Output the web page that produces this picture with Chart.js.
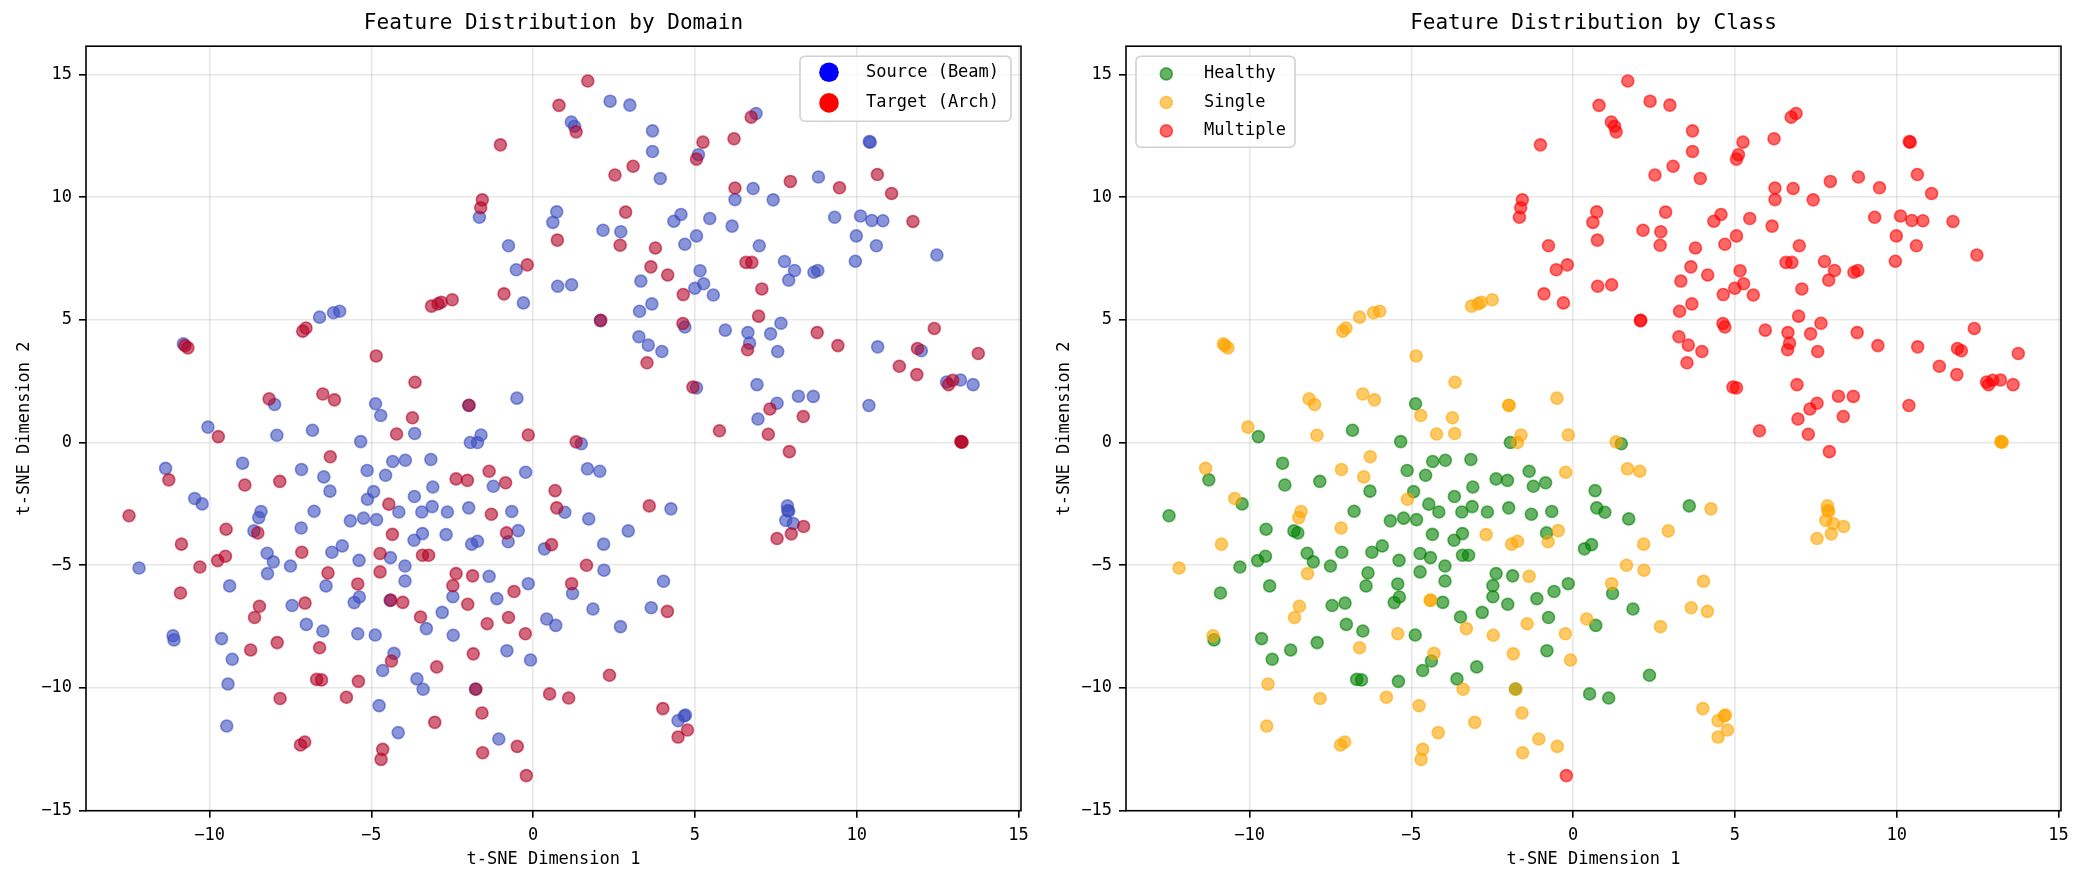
<!DOCTYPE html>
<html lang="en">
<head>
<meta charset="UTF-8">
<title>Feature Distribution</title>
<script src="https://cdn.jsdelivr.net/npm/chart.js"></script>
<style>
  body { margin: 0; background: #fff; }
  .wrap { position: absolute; top: 0; width: 1042px; height: 885px; }
</style>
</head>
<body>
<div class="wrap" style="left:0"><canvas id="domainChart" width="1042" height="885"></canvas></div>
<div class="wrap" style="left:1040px"><canvas id="classChart" width="1042" height="885"></canvas></div>

<script>
// t-SNE points [dim1, dim2], split by domain and class
const srcHealthy = [
  [-4.87,1.58],[1.49,-0.05],[0.98,-2.84],[1.72,-3.11],[1.22,-6.15],[1.85,-6.78],[0.70,-7.45],
  [-6.82,0.50],[-5.33,0.04],[-1.94,0.00],[-8.98,-0.84],[-6.28,-1.98],[-5.13,-1.14],[-4.56,-1.33],
  [-4.34,-0.77],[-3.95,-0.72],[-3.16,-0.69],[-1.23,-1.78],[-3.10,-1.81],[-3.67,-2.20],[-4.93,-2.00],
  [-4.15,-2.83],[-3.44,-2.83],[-3.12,-2.61],[-2.65,-2.83],[-1.99,-2.66],[-0.66,-2.81],[0.35,-4.33],
  [-10.23,-2.50],[-9.38,-5.84],[-8.63,-3.60],[-8.22,-4.51],[-8.03,-4.86],[-7.50,-5.03],[-6.77,-2.80],
  [-6.22,-4.47],[-5.90,-4.21],[-6.40,-5.84],[-5.38,-4.80],[-5.65,-3.19],[-5.24,-3.08],[-4.84,-3.14],
  [-4.41,-4.69],[-3.96,-5.03],[-3.96,-5.64],[-3.68,-3.98],[-3.42,-3.71],[-2.48,-6.28],[-1.12,-6.36],
  [-0.15,-5.75],[-0.81,-8.48],[-3.59,-9.63],[-1.78,-10.04],[-4.65,-9.29],[-4.88,-7.84],[-6.50,-7.68],
  [-7.01,-7.41],[-7.45,-6.64],[-9.30,-8.83],[-9.63,-7.99],[-11.10,-8.04],[-2.81,-6.92],[-5.53,-6.52],[-5.37,-6.29]
];
const srcSingle = [
  [-6.60,5.11],[-6.17,5.29],[-5.98,5.35],[-10.81,4.02],[-7.99,1.55],[-4.71,1.10],[-1.99,1.51],[-0.50,1.81],[-10.05,0.63],
  [1.68,-1.07],[2.06,-1.17],[4.26,-2.70],[2.94,-3.60],[2.18,-4.14],[2.19,-5.20],[2.70,-7.50],[3.65,-6.73],[4.03,-5.65],
  [4.48,-11.33],[4.67,-11.14],[4.71,-11.10],[7.86,-2.58],[7.87,-2.77],[7.90,-2.80],[7.81,-3.17],[8.04,-3.30],
  [-7.92,0.30],[-3.66,0.37],[-1.72,0.00],[-1.61,0.31],[-11.36,-1.05],[-7.16,-1.10],[-6.47,-1.40],[-0.23,-1.21],
  [-5.12,-2.31],[-0.46,-3.59],[-0.77,-4.04],[-10.46,-2.28],[-12.18,-5.11],[-8.48,-3.06],[-8.41,-2.81],[-8.21,-5.34],
  [-7.17,-3.48],[-2.69,-3.75],[-1.90,-4.14],[-1.72,-4.02],[-1.36,-5.45],[-0.08,-8.86],[0.42,-7.19],[-3.40,-10.05],
  [-1.06,-12.08],[-4.17,-11.82],[-4.76,-10.72],[-4.30,-8.59],[-5.42,-7.79],[-9.43,-9.84],[-9.47,-11.55],[-11.13,-7.87],
  [-3.30,-7.58],[-2.47,-7.85],[-4.42,-6.43]
];
const srcMultiple = [
  [-1.66,9.18],[0.73,9.40],[0.61,8.97],[-0.76,8.02],[-0.52,7.04],[-0.30,5.69],[0.76,6.37],
  [2.38,13.91],[2.99,13.75],[1.18,13.06],[1.28,12.89],[3.69,12.70],[3.69,11.86],[3.93,10.76],[5.11,11.73],
  [6.89,13.41],[10.39,12.26],[10.42,12.24],[8.82,10.82],[6.80,10.35],[6.24,9.90],[7.42,9.89],[2.16,8.65],
  [2.71,8.59],[4.35,9.02],[4.57,9.29],[5.46,9.13],[6.15,8.82],[5.05,8.42],[4.69,8.08],[6.99,8.02],[9.32,9.18],
  [10.12,9.23],[10.47,9.05],[10.81,9.04],[9.99,8.42],[10.61,8.02],[12.48,7.64],[9.96,7.39],[7.77,7.38],
  [8.08,7.01],[7.90,6.62],[8.68,6.94],[8.80,7.01],[3.33,6.58],[5.16,7.00],[5.27,6.47],[5.00,6.29],[5.57,6.01],
  [1.19,6.43],[3.29,5.35],[3.67,5.65],[2.08,4.97],[4.69,4.71],[5.94,4.58],[6.64,4.48],[6.69,4.05],[7.34,4.43],
  [7.66,4.86],[7.56,3.71],[3.27,4.31],[3.56,3.97],[3.98,3.71],[10.65,3.90],[12.00,3.74],[12.78,2.47],[13.21,2.55],
  [13.60,2.36],[10.38,1.51],[5.05,2.23],[6.92,2.36],[8.20,1.89],[8.66,1.88],[7.54,1.60],[6.95,0.96]
];
const tgtHealthy = [
  [0.68,-1.96],[0.73,-2.66],[3.59,-2.58],[2.36,-9.48],[1.10,-10.41],
  [-9.73,0.24],[-11.26,-1.52],[-8.91,-1.73],[-7.83,-1.58],[-2.38,-1.48],[-2.03,-1.54],[-1.36,-1.17],[-0.85,-1.64],
  [-4.46,-2.51],[-1.29,-2.92],[-0.82,-3.68],[0.57,-4.16],[-12.49,-2.98],[-10.90,-6.13],[-10.30,-5.07],[-9.75,-4.81],
  [-9.51,-4.63],[-9.49,-3.53],[-8.51,-3.68],[-7.15,-4.47],[-6.34,-5.31],[-4.35,-3.74],[-4.73,-4.52],[-4.73,-5.27],
  [-3.42,-4.59],[-3.23,-4.59],[-2.38,-5.34],[-2.48,-5.83],[-1.87,-5.43],[-2.02,-6.59],[-0.59,-6.07],[-0.76,-7.13],
  [-2.98,-9.14],[0.51,-10.24],[-4.38,-8.90],[-5.40,-9.73],[-6.69,-9.65],[-6.54,-9.67],[-7.05,-6.54],[-7.91,-8.15],
  [-8.73,-8.45],[-3.48,-7.11],[-4.03,-6.51],[-5.42,-5.76]
];
const tgtSingle = [
  [-3.14,5.56],[-2.94,5.65],[-2.84,5.72],[-2.50,5.82],[-7.12,4.54],[-7.02,4.67],[-10.76,3.95],[-10.67,3.86],
  [-4.85,3.53],[-3.65,2.46],[-8.16,1.78],[-6.50,1.98],[-6.14,1.74],[-3.73,1.01],[-1.98,1.52],
  [13.24,0.03],[13.26,0.01],[13.22,0.04],[1.33,0.03],[1.65,-5.00],[1.19,-5.75],[4.15,-6.88],[4.01,-10.84],
  [4.77,-11.71],[4.48,-12.00],[8.36,-3.42],[7.98,-3.72],[7.54,-3.91],
  [-4.22,0.35],[-0.15,0.31],[-6.27,-0.58],[-10.87,-4.14],[-1.42,-7.38],[-0.24,-7.79],[-1.85,-8.61],[-1.77,-10.05],
  [-1.58,-11.02],[-3.04,-11.40],[-0.49,-12.38],[-1.56,-12.64],[-4.65,-12.50],[-4.70,-12.91],[-5.77,-10.38],
  [-6.60,-8.36],[-7.82,-10.43],[-7.19,-12.32],[-7.06,-12.20],[-8.61,-7.13],[-8.46,-6.67],[-4.40,-6.42]
];
const tgtMultiple = [
  [0.80,13.74],[-1.01,12.13],[-1.57,9.89],[-1.62,9.57],[0.75,8.25],[-0.18,7.24],[-0.90,6.06],
  [1.69,14.73],[1.33,12.66],[3.09,11.26],[2.53,10.90],[5.25,12.24],[5.05,11.55],[6.21,12.38],[6.74,13.26],
  [10.64,10.92],[11.08,10.15],[7.95,10.64],[9.47,10.38],[6.24,10.37],[2.86,9.39],[2.69,8.04],[3.78,7.93],
  [11.74,9.01],[6.58,7.34],[6.76,7.34],[7.07,6.26],[3.64,7.16],[4.16,6.83],[4.64,6.03],[2.09,4.98],[4.63,4.85],
  [6.63,3.78],[6.97,5.15],[3.52,3.25],[8.78,4.48],[9.42,3.95],[12.40,4.65],[11.88,3.83],[13.76,3.63],[11.32,3.11],
  [11.86,2.77],[12.84,2.36],[12.97,2.54],[4.94,2.26],[7.32,1.37],[8.35,1.06],[5.76,0.48],[7.27,0.34],[7.92,-0.37],
  [-0.21,-13.57]
];

const domainNames = ["Source (Beam)", "Target (Arch)"];
const classNames = ["Healthy", "Single", "Multiple"];
const axisTicks = [-15, -10, -5, 0, 5, 10, 15];

const FONT = "'DejaVu Sans Mono', monospace";

function toXY(list) {
    return list.map(function (p) { return {x: p[0], y: p[1]}; });
}

function roundRect(ctx, x, y, w, h, r) {
    ctx.moveTo(x + r, y);
    ctx.lineTo(x + w - r, y);
    ctx.arcTo(x + w, y, x + w, y + r, r);
    ctx.lineTo(x + w, y + h - r);
    ctx.arcTo(x + w, y + h, x + w - r, y + h, r);
    ctx.lineTo(x + r, y + h);
    ctx.arcTo(x, y + h, x, y + h - r, r);
    ctx.lineTo(x, y + r);
    ctx.arcTo(x, y, x + r, y, r);
    ctx.closePath();
}

// matplotlib-like legend box + four spines
const frameLegend = {
    id: "frameLegend",
    afterDraw(chart, args, o) {
        const ctx = chart.ctx, a = chart.chartArea;
        ctx.save();
        const bx = o.fromRight ? a.right - o.dx - o.w : a.left + o.dx;
        const by = a.top + o.dy;
        ctx.beginPath();
        roundRect(ctx, bx, by, o.w, o.h, 5);
        ctx.fillStyle = "rgba(255,255,255,0.8)";
        ctx.fill();
        ctx.strokeStyle = "#d0d0d0";
        ctx.lineWidth = 1.6;
        ctx.stroke();
        ctx.font = "17px " + FONT;
        ctx.textBaseline = "middle";
        chart.data.datasets.forEach(function (ds, i) {
            const cy = by + o.rows[i];
            ctx.beginPath();
            ctx.arc(bx + o.markX, cy, o.r, 0, Math.PI * 2);
            ctx.fillStyle = ds.legendFill;
            ctx.fill();
            if (ds.legendEdge) {
                ctx.strokeStyle = ds.legendEdge;
                ctx.lineWidth = 1.6;
                ctx.stroke();
            }
            ctx.fillStyle = "#000";
            ctx.fillText(ds.label, bx + o.textX, cy);
        });
        ctx.strokeStyle = "#000";
        ctx.lineWidth = 1.6;
        ctx.strokeRect(a.left, a.top, a.right - a.left, a.bottom - a.top);
        ctx.restore();
    }
};

function tickText(v) {
    return v < 0 ? "\u2212" + (-v) : String(v);
}

function axis(label, isX) {
    return {
        type: "linear",
        min: isX ? -13.82 : -15,
        max: isX ? 15.08 : 16.15,
        afterFit: function (s) {
            if (isX) { s.height = 74.3; } else { s.width = 86; }
        },
        afterBuildTicks: function (s) {
            s.ticks = axisTicks.filter(function (v) { return v >= s.min && v <= s.max; })
                .map(function (v) { return {value: v}; });
        },
        ticks: {
            color: "#000",
            padding: isX ? 8 : 7,
            font: {family: FONT, size: 17},
            callback: tickText
        },
        grid: {
            color: "rgba(176,176,176,0.3)",
            lineWidth: 1.6,
            tickLength: 7,
            tickColor: "#000",
            tickWidth: 1.6
        },
        border: {display: false},
        title: {
            display: true,
            text: label,
            color: "#000",
            font: {family: FONT, size: 17},
            padding: isX ? {top: 0, bottom: 15} : {top: 14, bottom: 0}
        }
    };
}

function makeChart(id, title, datasets, legendOpts) {
    return new Chart(id, {
        type: "scatter",
        data: {datasets: datasets},
        options: {
            responsive: false,
            animation: false,
            layout: {padding: {top: 0, right: 21, bottom: 0, left: 0}},
            scales: {
                x: axis("t-SNE Dimension 1", true),
                y: axis("t-SNE Dimension 2", false)
            },
            plugins: {
                legend: {display: false},
                tooltip: {enabled: false},
                title: {
                    display: true,
                    text: title,
                    fullSize: false,
                    color: "#000",
                    font: {family: FONT, size: 21, weight: "normal"},
                    padding: {top: 11, bottom: 10}
                },
                frameLegend: legendOpts
            }
        },
        plugins: [frameLegend]
    });
}

function scatterSet(label, points, rgb, order, legendFill, legendEdge) {
    return {
        label: label,
        data: toXY(points),
        order: order,
        pointRadius: 6,
        pointHoverRadius: 6,
        pointBorderWidth: 1.6,
        backgroundColor: "rgba(" + rgb + ",0.6)",
        borderColor: "rgba(" + rgb + ",0.6)",
        legendFill: legendFill,
        legendEdge: legendEdge
    };
}

// left: by domain (coolwarm end colours, alpha 0.6)
makeChart("domainChart", "Feature Distribution by Domain", [
    scatterSet(domainNames[0], srcHealthy.concat(srcSingle, srcMultiple), "59,76,192", 2, "#0000ff", null),
    scatterSet(domainNames[1], tgtHealthy.concat(tgtSingle, tgtMultiple), "180,4,38", 1, "#ff0000", null)
], {fromRight: true, dx: 10, dy: 10, w: 211, h: 65, markX: 29, textX: 66, rows: [16, 46.7], r: 9.8});

// right: by class
makeChart("classChart", "Feature Distribution by Class", [
    scatterSet(classNames[0], srcHealthy.concat(tgtHealthy), "0,128,0", 3, "rgba(0,128,0,0.6)", "rgba(0,128,0,0.6)"),
    scatterSet(classNames[1], srcSingle.concat(tgtSingle), "255,165,0", 2, "rgba(255,165,0,0.6)", "rgba(255,165,0,0.6)"),
    scatterSet(classNames[2], srcMultiple.concat(tgtMultiple), "255,0,0", 1, "rgba(255,0,0,0.6)", "rgba(255,0,0,0.6)")
], {fromRight: false, dx: 10, dy: 10, w: 159, h: 91, markX: 30.3, textX: 68, rows: [17.7, 46.3, 74.7], r: 6});
</script>
</body>
</html>
